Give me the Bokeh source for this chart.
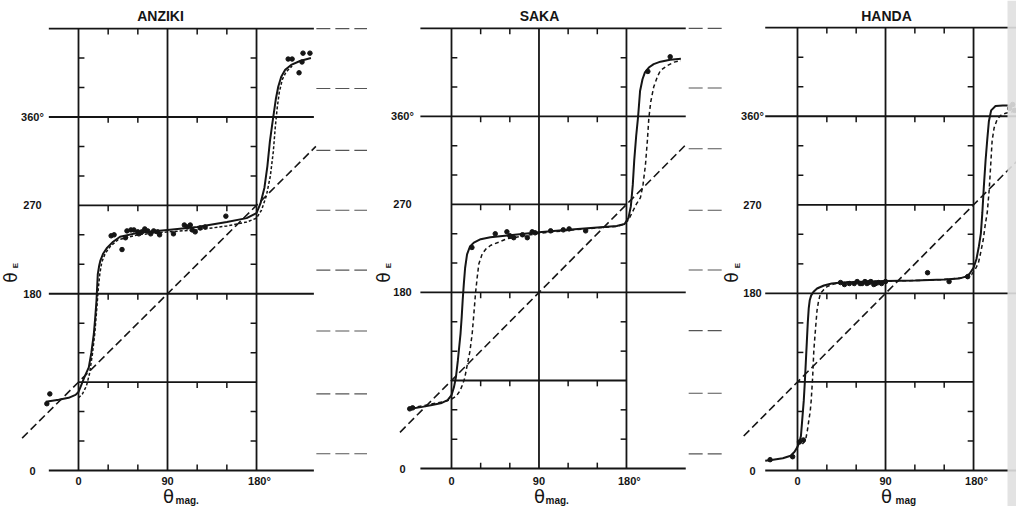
import math
from bokeh.plotting import figure
from bokeh.layouts import row
from bokeh.embed import file_html
from bokeh.resources import INLINE
from bokeh.core.properties import value
from bokeh.models import BoxAnnotation

# ---------------- data (degrees) ----------------
titles = ["ANZIKI", "SAKA", "HANDA"]
x_tick_values = [0, 90, 180]
x_tick_labels = ["0", "90", "180°"]
y_tick_values = [0, 180, 270, 360]
y_tick_labels = ["0", "180", "270", "360°"]
x_label_subs = ["mag.", "mag.", "mag"]
y_full_lines = [0, 180, 360, 450]
y_box_lines = [90, 270]
x_lines = [0, 90, 180]
x_minor = [30, 60, 120, 150]
y_minor = [30, 60, 120, 150, 210, 240, 300, 330, 390, 420]

# ANZIKI
anziki_solid_x = [-33, -20, -10, -3, 0, 2, 6, 10.4, 13, 15.5, 17, 18.2, 19.5, 21, 22.2, 25, 29, 35, 42, 60, 90, 120, 150, 170, 180, 184, 188, 191, 193.5, 195.8, 197.5, 199.5, 202, 205, 209, 215, 224, 235]
anziki_solid_y = [70, 72, 74, 77, 80, 85, 95, 105, 120, 139, 157, 173, 200, 209, 214, 221, 227, 233, 238, 242, 245, 248, 253, 257, 262, 272, 288, 310, 335, 352, 364, 378, 391, 401, 408, 413, 417, 420]
anziki_alt_x = [0, 4, 8, 11, 14, 16.5, 18.5, 20, 21.5, 23.5, 27, 32, 40, 60, 90, 120, 150, 170, 180, 185, 190, 194, 197, 199, 201, 203, 206, 210, 216]
anziki_alt_y = [74, 78, 86, 98, 118, 140, 165, 185, 200, 212, 221, 228, 235, 240, 243, 245, 249, 253, 257, 265, 280, 300, 325, 350, 370, 385, 398, 406, 412]
anziki_pts_x = [-32, -29, 33, 36, 44, 47.5, 49, 53, 56, 60, 61, 64, 67, 70, 73, 76, 80, 82, 96, 107, 110, 113, 115, 118, 123, 128, 149, 212, 216, 223, 226, 227, 234]
anziki_pts_y = [68, 78, 239, 240, 225, 237, 244, 245, 245, 243, 241, 243, 246, 244, 241, 244, 243, 240, 241, 250, 248, 250, 245, 243, 247, 248, 259, 419, 419, 405, 416, 425, 425]
anziki_diag_x = [-57, 240]
anziki_diag_y = [33, 330]

# SAKA
saka_solid_x = [-42, -30, -20, -10, -4, 0, 2.5, 4.5, 6.5, 8, 9.3, 10.5, 11.5, 12.7, 14, 16, 19, 23, 30, 40, 60, 90, 120, 150, 170, 178, 182, 184.5, 186.5, 188, 190, 192, 194, 196.5, 199, 203, 208, 215, 225, 236]
saka_solid_y = [61, 63, 65, 67, 70, 75, 83, 93, 110, 125, 138, 155, 172, 189, 205, 219, 227, 231, 234.5, 236.5, 238.5, 241.5, 244, 246.5, 248, 250, 256, 268, 290, 315, 340, 360, 386, 398, 405, 410, 413.5, 416, 418, 419]
saka_alt_x = [-42, -30, -15, -5, 0, 5, 9, 11, 13.5, 16, 19, 21.3, 23, 24.7, 26.5, 28.1, 31.6, 35, 40, 50, 57, 70, 90, 120, 150, 170, 178, 182, 186, 190, 194.4, 197, 199.5, 201.5, 203, 205, 208, 212, 215, 222, 229, 236]
saka_alt_y = [62, 64, 67, 69, 71, 74, 80, 85, 92, 105, 120, 138, 158, 179, 196, 209, 219.5, 224, 228, 232, 235, 237, 240.5, 243.5, 246, 247.5, 250, 254, 262, 270, 277, 290, 310, 335, 358, 375, 390, 401, 407, 412, 415.5, 417]
saka_pts_x = [-43, -40, 21, 45, 57, 60, 64, 73, 78, 83, 86, 102, 115, 121, 138, 202, 225]
saka_pts_y = [61, 62, 226, 240, 242, 238, 236, 239, 236, 242, 241, 243, 244, 245, 243, 406, 421]
saka_diag_x = [-53, 240]
saka_diag_y = [37, 330]

# HANDA
handa_solid_x = [-33, -25, -15, -7, -3, 0, 2, 3.5, 4.8, 6.4, 7.5, 8.5, 9.5, 10.5, 11.5, 12.5, 14, 16.7, 20, 27, 35, 45, 60, 90, 120, 150, 165, 172, 176, 180, 183, 185.5, 187.5, 189, 190.5, 192.3, 194, 195.7, 198, 202.5, 210, 222]
handa_solid_y = [10, 11, 12.5, 15, 19, 24, 29, 35, 51, 71, 90, 110, 130, 150, 165, 173, 178, 182, 185, 188, 190, 191, 191.5, 192.5, 193, 194, 195, 197, 200, 206, 215, 228, 241, 262, 288, 315, 336, 355, 366, 370.5, 371, 371]
handa_alt_x = [5, 8.2, 10, 11.6, 13, 14, 15.5, 16.7, 18.5, 20, 21.5, 23.5, 27, 30.4, 37, 44, 55, 70, 90, 120, 150, 170, 178, 182, 185, 187, 190, 192, 194, 196, 197.4, 199, 201, 204.2, 208, 212.7, 222]
handa_alt_y = [27, 30.5, 40, 51, 60, 71, 95, 122, 145, 163, 172, 180, 184, 187, 189.5, 191, 191.5, 192, 192.5, 193, 194, 196, 199, 205, 211, 220, 235, 250, 262, 285, 308, 335, 348, 357, 361, 363, 365]
handa_pts_x = [-28, -5, 2, 6, 44, 48, 53, 58, 61, 64, 66, 69, 71, 73, 75, 78, 80, 83, 86, 90, 133, 155, 174, 217, 220, 222]
handa_pts_y = [11, 14, 29, 31, 191, 189, 190, 190, 192, 190, 190, 192, 190, 191, 192, 189, 190, 191, 190, 192, 201, 192, 197, 368, 372, 366]
handa_diag_x = [-55, 230]
handa_diag_y = [35, 320]

# faint ruled marks in the gaps between panels (scan artefacts)
gap1_levels = [450, 389, 326, 265, 204, 142, 78, 17]
gap2_levels = [450, 389, 327, 264, 203, 141, 77, 15]

# ---------------- drawing ----------------
FONT = value("Liberation Sans")
GREEK = value("DejaVu Sans")
INK = "#151515"
H = 506


def make_panel(cal, fig_left, fig_right, title, ext, solid, alt, alt_dash, pts, diag,
               sub, pos, rules=None, edge=None):
    X0, sx, Y0, sy = cal

    def dx(px):
        return (px - X0) / sx

    def dy(py):
        return (Y0 - py) / sy

    p = figure(width=fig_right - fig_left, height=H,
               x_range=(dx(fig_left), dx(fig_right)), y_range=(dy(H), dy(0)),
               x_axis_location=None, y_axis_location=None, toolbar_location=None,
               output_backend="svg", min_border=0, outline_line_color=None,
               background_fill_color="white", border_fill_color="white")
    p.grid.visible = False

    if edge is not None:
        p.add_layout(BoxAnnotation(left=dx(edge), fill_color="#e0e0e0", fill_alpha=0.9,
                                   line_color=None))

    lw = 1.8
    # frame lines
    p.segment(x0=[ext[0]] * len(y_full_lines), x1=[ext[1]] * len(y_full_lines),
              y0=y_full_lines, y1=y_full_lines, line_color=INK, line_width=lw)
    p.segment(x0=[0] * len(y_box_lines), x1=[180] * len(y_box_lines),
              y0=y_box_lines, y1=y_box_lines, line_color=INK, line_width=lw)
    p.segment(x0=x_lines, x1=x_lines, y0=[0] * len(x_lines), y1=[450] * len(x_lines),
              line_color=INK, line_width=lw)
    # ticks along the lines
    tx0, ty0, tx1, ty1 = [], [], [], []
    for yl in y_full_lines + y_box_lines:
        d = 6 if yl == 0 else -6
        for xm in x_minor:
            tx0.append(xm); tx1.append(xm); ty0.append(yl); ty1.append(yl + d)
    for ym in y_minor:
        tx0 += [0, 180]; tx1 += [6, 174]; ty0 += [ym, ym]; ty1 += [ym, ym]
    p.segment(x0=tx0, y0=ty0, x1=tx1, y1=ty1, line_color=INK, line_width=1.5)

    if rules is not None:
        lv, xa, xb = rules
        p.segment(x0=[xa] * len(lv), x1=[xb] * len(lv), y0=lv, y1=lv,
                  line_color="#555555", line_width=1.1, line_dash="14 5")

    # diagonal reference line
    p.line(diag[0], diag[1], line_color=INK, line_width=1.6, line_dash="8 4")
    # model curves
    p.line(alt[0], alt[1], line_color=INK, line_width=1.5, line_dash=alt_dash)
    p.line(solid[0], solid[1], line_color=INK, line_width=2.0)
    # observations
    p.scatter(pts[0], pts[1], size=4.5, color=INK)

    # tick labels
    p.text(x=[dx(pos["ylab"])] * len(y_tick_values), y=y_tick_values, text=y_tick_labels,
           text_font=FONT, text_font_size="11px", text_font_style="bold",
           text_align="center", text_baseline="middle", text_color=INK)
    p.text(x=[v + (3 if s.endswith("°") else 0) for v, s in zip(x_tick_values, x_tick_labels)],
           y=[dy(480)] * len(x_tick_values), text=x_tick_labels,
           text_font=FONT, text_font_size="11px", text_font_style="bold",
           text_align="center", text_baseline="middle", text_color=INK)
    # title
    p.text(x=[dx(pos["title"][0])], y=[dy(pos["title"][1])], text=[title],
           text_font=FONT, text_font_size="14px", text_font_style="bold",
           text_align="center", text_baseline="middle", text_color=INK)
    # x-axis label theta_mag
    p.text(x=[dx(pos["theta"][0])], y=[dy(496)], text=["θ"],
           text_font=GREEK, text_font_size="18px", text_align="center",
           text_baseline="middle", text_color=INK)
    p.text(x=[dx(pos["sub"])], y=[dy(500)], text=[sub],
           text_font=FONT, text_font_size="10px", text_font_style="bold",
           text_align="left", text_baseline="middle", text_color=INK)
    # y-axis label theta_E (rotated)
    p.text(x=[dx(pos["thE"][0])], y=[dy(277)], text=["θ"], angle=math.pi / 2,
           text_font=GREEK, text_font_size="17px", text_align="center",
           text_baseline="middle", text_color=INK)
    p.text(x=[dx(pos["thE"][1])], y=[dy(265)], text=["E"], angle=math.pi / 2,
           text_font=FONT, text_font_size="8px", text_font_style="bold",
           text_align="center", text_baseline="middle", text_color=INK)
    return p


p1 = make_panel((78, 0.989, 470, 0.982), 0, 367, titles[0], (-30, 238),
                (anziki_solid_x, anziki_solid_y), (anziki_alt_x, anziki_alt_y), "3 2",
                (anziki_pts_x, anziki_pts_y), (anziki_diag_x, anziki_diag_y), x_label_subs[0],
                {"ylab": 32, "title": (160, 15), "theta": (168,), "sub": 175, "thE": (10, 15)},
                rules=(gap1_levels, 240.5, 300))
p2 = make_panel((451, 0.972, 468, 0.978), 367, 722, titles[1], (-32, 241),
                (saka_solid_x, saka_solid_y), (saka_alt_x, saka_alt_y), "4 3",
                (saka_pts_x, saka_pts_y), (saka_diag_x, saka_diag_y), x_label_subs[1],
                {"ylab": 402, "title": (539, 15), "theta": (539,), "sub": 545, "thE": (383, 388)},
                rules=(gap2_levels, 244, 290))
p3 = make_panel((797, 0.978, 470, 0.984), 722, 1016, titles[2], (-33, 240),
                (handa_solid_x, handa_solid_y), (handa_alt_x, handa_alt_y), "4 3",
                (handa_pts_x, handa_pts_y), (handa_diag_x, handa_diag_y), x_label_subs[2],
                {"ylab": 752, "title": (886, 15), "theta": (886,), "sub": 895, "thE": (731, 737)},
                edge=1007)

layout = row(p1, p2, p3)
open("out.html", "w").write(file_html(layout, INLINE))
